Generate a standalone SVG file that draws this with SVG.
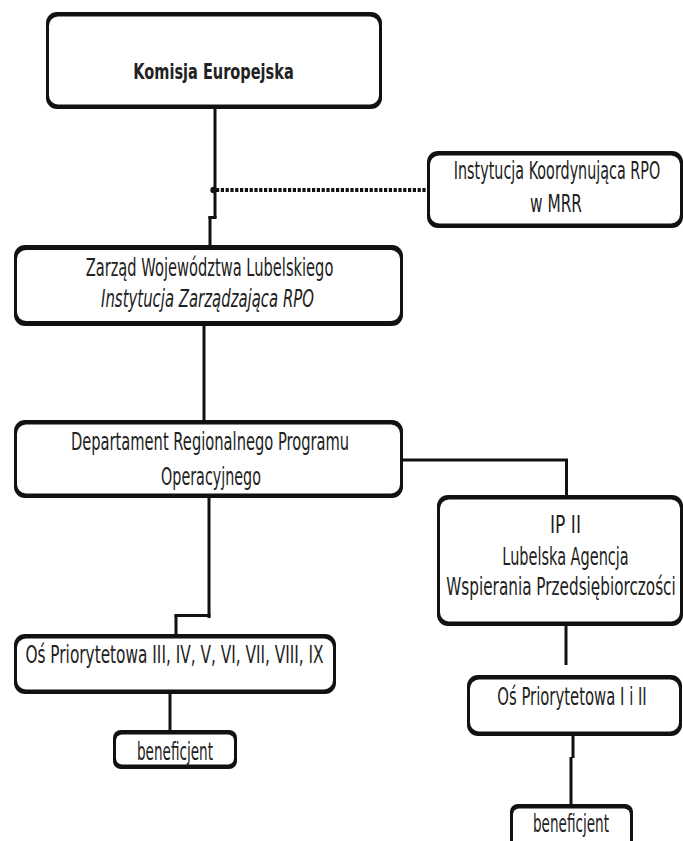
<svg xmlns="http://www.w3.org/2000/svg" width="683" height="841" viewBox="0 0 683 841">
<style>
.bo{fill:#111}
.bi{fill:#fff}
.t{font-family:"DejaVu Sans","Verdana",sans-serif;font-size:24px;fill:#222;text-anchor:middle}
.b{font-weight:bold;font-size:21px}
.i{font-style:italic}
.c{stroke:#111;fill:none;stroke-width:3}
</style>
<rect width="683" height="841" fill="#fff"/>
<g id="connectors">
<path class="c" d="M215,109 V218" stroke-width="3.3"/>
<path class="c" d="M208.5,217.5 H216.5" stroke-width="5"/>
<path class="c" d="M210,216 V246"/>
<line x1="216" y1="190" x2="428" y2="190" stroke="#111" stroke-width="4" stroke-dasharray="3.2 1.6"/>
<circle cx="213.5" cy="190" r="3.2" fill="#111"/>
<path class="c" d="M204,325 V421"/>
<path class="c" d="M402,460 H568" stroke-width="5.5"/>
<path class="c" d="M566.5,460 V496"/>
<path class="c" d="M209,497 V618"/>
<path class="c" d="M174.5,615.5 H210.5" stroke-width="5"/>
<path class="c" d="M176,615 V635"/>
<path class="c" d="M170,693 V731"/>
<path class="c" d="M566,625 V665" stroke-width="3.5"/>
<path class="c" d="M573,735 V758"/>
<path class="c" d="M571,757 V805"/>
</g>
<g id="komisja">
<rect class="bo" x="46" y="12" width="336" height="97" rx="11"/>
<rect class="bi" x="49" y="16.5" width="330" height="88" rx="9"/>
<text class="t b" transform="translate(213.5,79) scale(0.693,1)">Komisja Europejska</text>
</g>
<g id="instytucja-koordynujaca">
<rect class="bo" x="427" y="151" width="256" height="77" rx="11"/>
<rect class="bi" x="430" y="155.5" width="250" height="68" rx="9"/>
<text class="t" transform="translate(557,179) scale(0.598,1)">Instytucja Koordynująca RPO</text>
<text class="t" transform="translate(556,212) scale(0.64,1)">w MRR</text>
</g>
<g id="zarzad">
<rect class="bo" x="14" y="245" width="389" height="81" rx="11"/>
<rect class="bi" x="17" y="250" width="383" height="71" rx="9"/>
<text class="t" transform="translate(209.5,276) scale(0.611,1)">Zarząd Województwa Lubelskiego</text>
<text class="t i" transform="translate(207.5,307) scale(0.621,1)">Instytucja Zarządzająca RPO</text>
</g>
<g id="departament">
<rect class="bo" x="14" y="420" width="389" height="78" rx="11"/>
<rect class="bi" x="17" y="424.5" width="383" height="69" rx="9"/>
<text class="t" transform="translate(210,450) scale(0.612,1)">Departament Regionalnego Programu</text>
<text class="t" transform="translate(211,485) scale(0.597,1)">Operacyjnego</text>
</g>
<g id="ip2">
<rect class="bo" x="437" y="495" width="246" height="131" rx="11"/>
<rect class="bi" x="440" y="499.5" width="240" height="122" rx="9"/>
<text class="t" transform="translate(565.5,533) scale(0.715,1)">IP II</text>
<text class="t" transform="translate(565.5,565) scale(0.604,1)">Lubelska Agencja</text>
<text class="t" transform="translate(561,595) scale(0.636,1)">Wspierania Przedsiębiorczości</text>
</g>
<g id="os-3-9">
<rect class="bo" x="14" y="634" width="322" height="60" rx="11"/>
<rect class="bi" x="17" y="638.5" width="316" height="51" rx="9"/>
<text class="t" transform="translate(174.5,663) scale(0.64,1)">Oś Priorytetowa III, IV, V, VI, VII, VIII, IX</text>
</g>
<g id="beneficjent-1">
<rect class="bo" x="113" y="730" width="124" height="39" rx="8"/>
<rect class="bi" x="116" y="734.5" width="118" height="30" rx="6"/>
<text class="t" transform="translate(175,760) scale(0.566,1)">beneficjent</text>
</g>
<g id="os-1-2">
<rect class="bo" x="467" y="675" width="215" height="61" rx="11"/>
<rect class="bi" x="470" y="679.5" width="209" height="52" rx="9"/>
<text class="t" transform="translate(572,705) scale(0.619,1)">Oś Priorytetowa I i II</text>
</g>
<g id="beneficjent-2">
<rect class="bo" x="510" y="804" width="123" height="50" rx="8"/>
<rect class="bi" x="513" y="808.5" width="117" height="41" rx="6"/>
<text class="t" transform="translate(571,832) scale(0.566,1)">beneficjent</text>
</g>
</svg>
